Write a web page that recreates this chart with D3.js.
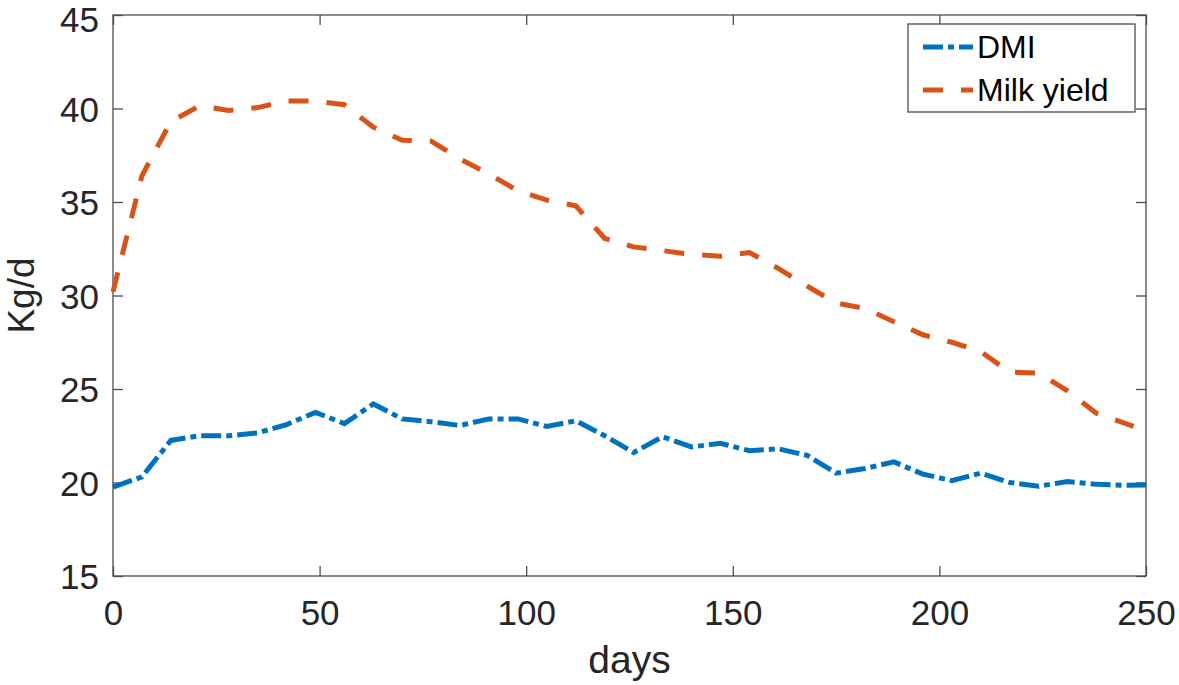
<!DOCTYPE html>
<html>
<head>
<meta charset="utf-8">
<script src="https://cdn.jsdelivr.net/npm/d3@7"></script>
<style>
  html, body { margin: 0; padding: 0; background: #fff; }
  svg { display: block; }
  text { font-family: "Liberation Sans", Arial, Helvetica, sans-serif; fill: #262626; }
</style>
</head>
<body>
<svg id="chart" width="1179" height="685"></svg>
<script>
// ---- data ----
const dmiDays = [0,7,14,21,28,35,42,49,56,63,70,77,84,91,98,105,112,119,126,133,140,147,154,161,168,175,182,189,196,203,210,217,224,231,238,245,250];
const dmiValues = [19.75,20.3,22.25,22.5,22.5,22.65,23.1,23.75,23.15,24.2,23.4,23.25,23.05,23.4,23.4,23.0,23.3,22.5,21.6,22.45,21.9,22.1,21.7,21.8,21.45,20.5,20.75,21.1,20.45,20.1,20.5,20.0,19.8,20.05,19.9,19.85,19.87];
const milkDays = [0,7,14,21,28,35,42,49,56,63,70,77,84,91,98,105,112,119,126,133,140,147,154,161,168,175,182,189,196,203,210,217,224,231,238,247];
const milkValues = [30.2,36.4,39.3,40.15,39.9,40.05,40.4,40.4,40.2,39.0,38.3,38.25,37.3,36.5,35.6,35.1,34.8,33.05,32.6,32.4,32.2,32.1,32.3,31.45,30.5,29.6,29.3,28.6,27.9,27.5,27.0,25.9,25.85,24.9,23.7,23.0];
const xTicks = [0,50,100,150,200,250];
const yTicks = [15,20,25,30,35,40,45];
const seriesNames = ["DMI","Milk yield"];
const seriesColors = ["#0072BD","#D95319"];

// ---- layout ----
const L = 113, R = 1146, T = 15, B = 576;
const svg = d3.select("#chart");
const x = d3.scaleLinear().domain([0,250]).range([L,R]);
const y = d3.scaleLinear().domain([15,45]).range([B,T]);

const axisColor = "#4d4d4d";
const tickLen = 10;

// frame
svg.append("rect").attr("x",L).attr("y",T).attr("width",R-L).attr("height",B-T)
  .attr("fill","none").attr("stroke",axisColor).attr("stroke-width",1.3);

// axes with mirrored ticks
const fontSize = 35;
const gxB = svg.append("g").attr("transform",`translate(0,${B})`)
  .call(d3.axisBottom(x).tickValues(xTicks).tickSizeInner(-tickLen).tickSizeOuter(0).tickPadding(24));
const gxT = svg.append("g").attr("transform",`translate(0,${T})`)
  .call(d3.axisTop(x).tickValues(xTicks).tickSizeInner(-tickLen).tickSizeOuter(0).tickFormat(""));
const gyL = svg.append("g").attr("transform",`translate(${L},0)`)
  .call(d3.axisLeft(y).tickValues(yTicks).tickSizeInner(-tickLen).tickSizeOuter(0).tickPadding(24));
const gyR = svg.append("g").attr("transform",`translate(${R},0)`)
  .call(d3.axisRight(y).tickValues(yTicks).tickSizeInner(-tickLen).tickSizeOuter(0).tickFormat(""));
[gxB,gxT,gyL,gyR].forEach(g => {
  g.select(".domain").remove();
  g.selectAll(".tick line").attr("stroke",axisColor).attr("stroke-width",1.3);
  g.selectAll(".tick text").style("font-size",fontSize+"px").attr("fill","#262626")
    .style("font-family",'"Liberation Sans", Arial, sans-serif');
});
gxB.selectAll(".tick text").attr("dy",null).attr("y",49);
gyL.selectAll(".tick text").attr("x",-14).attr("dy","0.36em")
  .attr("y", d => d === 45 ? 4 : 0);

// axis labels
svg.append("text").attr("x",(L+R)/2).attr("y",673).attr("text-anchor","middle")
  .style("font-size","39px").text("days");
svg.append("text").attr("transform",`translate(34,${(T+B)/2}) rotate(-90)`)
  .attr("text-anchor","middle").style("font-size","37px").text("Kg/d");

// lines
const line = d3.line().x(d => x(d[0])).y(d => y(d[1]));
const dmiData = dmiDays.map((d,i) => [d, dmiValues[i]]);
const milkData = milkDays.map((d,i) => [d, milkValues[i]]);
const dashes = ["20,5,6,5","20,18"];

svg.append("path").datum(milkData).attr("d",line).attr("fill","none")
  .attr("stroke",seriesColors[1]).attr("stroke-width",5).attr("stroke-dasharray",dashes[1]);
svg.append("path").datum(dmiData).attr("d",line).attr("fill","none")
  .attr("stroke",seriesColors[0]).attr("stroke-width",5).attr("stroke-dasharray",dashes[0]);

// legend
const lg = svg.append("g");
lg.append("rect").attr("x",908).attr("y",24).attr("width",227).attr("height",88)
  .attr("fill","#fff").attr("stroke",axisColor).attr("stroke-width",1.3);
const rowsY = [47, 90];
seriesNames.forEach((name,i) => {
  lg.append("line").attr("x1",923).attr("x2",973).attr("y1",rowsY[i]).attr("y2",rowsY[i])
    .attr("stroke",seriesColors[i]).attr("stroke-width",5).attr("stroke-dasharray",dashes[i]);
  lg.append("text").attr("x",977).attr("y",rowsY[i]+11).style("font-size","32px")
    .style("fill","#000").text(name);
});
</script>
</body>
</html>
